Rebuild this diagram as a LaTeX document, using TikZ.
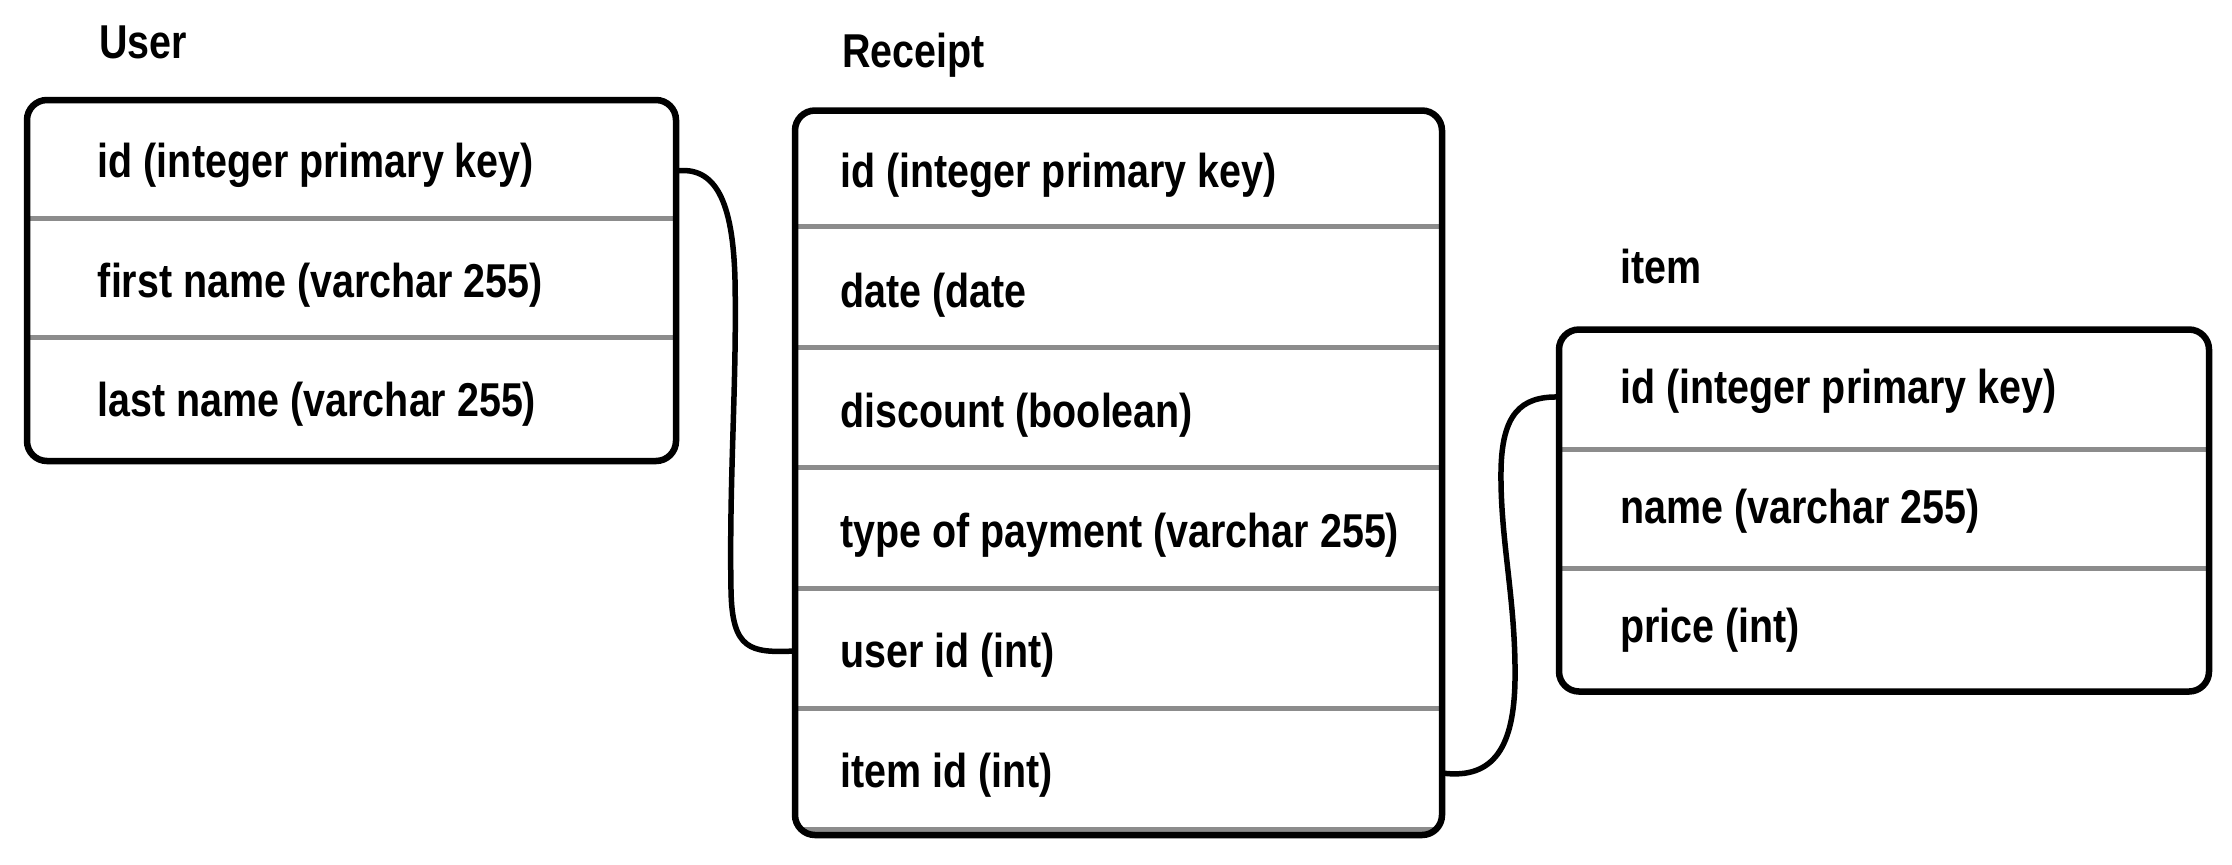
\documentclass[tikz,border=0pt]{standalone}
\usepackage{fontspec}
\newfontfamily\erfont{Liberation Sans}[FakeStretch=0.83]
\usetikzlibrary{calc,backgrounds}
\definecolor{divgray}{HTML}{8C8C8C}
\begin{document}
\begin{tikzpicture}[x=0.5pt,y=-0.5pt,
  tbl/.style={draw=black, line width=3.25pt, rounded corners=10pt, outer sep=0pt, inner sep=0pt, anchor=north west},
  divider/.style={draw=divgray, line width=2.5pt},
  txt/.style={font=\erfont\bfseries\fontsize{23.75pt}{28pt}\selectfont, inner sep=0pt, anchor=base west},
  conn/.style={draw=black, line width=2.75pt}]
\useasboundingbox (0,0) rectangle (2232,864);

% titles
\node[txt] (usertitle) at (99,58) {User};
\node[txt] (receipttitle) at (842,67) {Receipt};
\node[txt] (itemtitle) at (1620,283) {item};

% boxes
\node[tbl, minimum width=324.5pt, minimum height=180.5pt] (user) at (27,100) {};
\node[tbl, minimum width=323.5pt, minimum height=362.25pt] (receipt) at (795,110.5) {};
\node[tbl, minimum width=325pt, minimum height=181pt] (item) at (1559,329.5) {};

% background and dividers
\begin{scope}[on background layer]
  \fill[white] (0,0) rectangle (2232,864);
  \foreach \yy in {218.5,337.5}
    \draw[divider] (user.west |- 0,\yy) -- (user.east |- 0,\yy);
  \foreach \yy in {226.5,347,467.5,588,708.5}
    \draw[divider] (receipt.west |- 0,\yy) -- (receipt.east |- 0,\yy);
  \draw[divider, shorten <=3pt, shorten >=3pt] (receipt.west |- 0,829) -- (receipt.east |- 0,829);
  \foreach \yy in {449.5,568.5}
    \draw[divider] (item.west |- 0,\yy) -- (item.east |- 0,\yy);
\end{scope}

% rows
\node[txt] (u1) at (97.5,177) {id (integer primary key)};
\node[txt] (u2) at (97.5,297) {first name (varchar 255)};
\node[txt] (u3) at (97.5,416) {last name (varchar 255)};

\node[txt] (r1) at (840,187) {id (integer primary key)};
\node[txt] (r2) at (840,307) {date (date};
\node[txt] (r3) at (840,427) {discount (boolean)};
\node[txt] (r4) at (840,547) {type of payment (varchar 255)};
\node[txt] (r5) at (840,667) {user id (int)};
\node[txt] (r6) at (840,787) {item id (int)};

\node[txt] (i1) at (1620,403) {id (integer primary key)};
\node[txt] (i2) at (1620,523) {name (varchar 255)};
\node[txt] (i3) at (1620,642) {price (int)};

% connectors
\draw[conn] ($(user.east |- u1.base)+(0,-6)$)
  .. controls (715,166) and (733,200) .. (735,280)
  .. controls (737,380) and (729,480) .. (731,590)
  .. controls (732,650) and (750,653) .. ($(receipt.west |- r5.base)+(0,-16)$);
\draw[conn] ($(receipt.east |- r6.base)+(0,-14)$)
  .. controls (1495,780) and (1514,745) .. (1515,680)
  .. controls (1516,600) and (1500,540) .. (1501,470)
  .. controls (1502,415) and (1520,396) .. ($(item.west |- i1.base)+(0,-6)$);
\end{tikzpicture}
\end{document}
